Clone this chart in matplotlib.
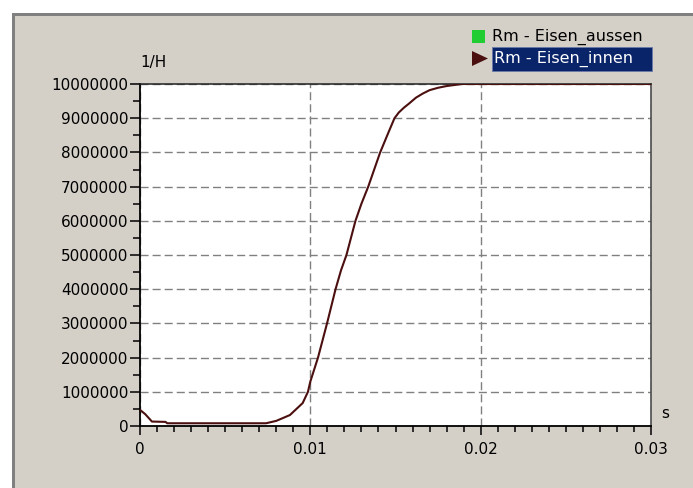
import numpy as np
import matplotlib.pyplot as plt
from matplotlib.patches import Rectangle, Polygon
from matplotlib.ticker import MultipleLocator, FormatStrFormatter

W, H = 693, 488

# values (time in s, Rm in 1/H)
t_innen = [0, 0.0003, 0.0007, 0.0015, 0.0016, 0.0074, 0.008, 0.0088, 0.00955,
           0.00986, 0.01, 0.01045, 0.01098, 0.01148, 0.0118, 0.01212, 0.01265,
           0.013, 0.0134, 0.0141, 0.0146, 0.01494, 0.0152, 0.0155, 0.0158,
           0.0162, 0.0166, 0.017, 0.0175, 0.018, 0.0189, 0.03]
rm_innen = [470000, 350000, 130000, 120000, 80000, 80000, 150000, 320000, 670000,
            1000000, 1300000, 2000000, 3000000, 4000000, 4550000, 5000000, 6000000,
            6500000, 7000000, 8000000, 8600000, 9000000, 9170000, 9310000, 9430000,
            9600000, 9720000, 9820000, 9890000, 9940000, 10000000, 10000000]

legend_names = ['Rm - Eisen_aussen', 'Rm - Eisen_innen']
legend_colors = ['#22cc33', '#4b0f0f']
y_unit = '1/H'
x_unit = 's'

PANEL = '#d4d0c8'
GRID = '#808080'
FS = 11
FS_LEG = 11.5


def fx(x):
    return x / W


def fy(y):
    return 1 - y / H


fig = plt.figure(figsize=(W / 100, H / 100), dpi=100)
fig.patch.set_facecolor('white')

# gray window panel with dark border on top/left
fig.add_artist(Rectangle((fx(12), 0), 1 - fx(12), fy(13), transform=fig.transFigure,
                         facecolor=PANEL, edgecolor='none', zorder=0))
fig.add_artist(Rectangle((fx(12), 0), fx(3), fy(13), transform=fig.transFigure,
                         facecolor='#808080', edgecolor='none', zorder=0))
fig.add_artist(Rectangle((fx(12), fy(16)), 1 - fx(12), fy(13) - fy(16),
                         transform=fig.transFigure,
                         facecolor='#808080', edgecolor='none', zorder=0))

ax = fig.add_axes([fx(140), fy(426), fx(651) - fx(140), fy(84) - fy(426)])
ax.set_facecolor('white')

ax.plot(t_innen, rm_innen, color=legend_colors[1], lw=1.5, zorder=3)

ax.set_xlim(0, 0.03)
ax.set_ylim(0, 10000000)
ax.xaxis.set_major_locator(MultipleLocator(0.01))
ax.xaxis.set_minor_locator(MultipleLocator(0.001))
ax.yaxis.set_major_locator(MultipleLocator(1000000))
ax.yaxis.set_minor_locator(MultipleLocator(500000))
ax.xaxis.set_major_formatter(lambda v, p: '0' if v == 0 else f'{v:.2f}')
ax.yaxis.set_major_formatter(FormatStrFormatter('%d'))

ax.tick_params(axis='y', which='major', direction='out', length=7, width=1.1,
               labelsize=FS, pad=1.5)
ax.tick_params(axis='y', which='minor', direction='out', length=5, width=1.1)
ax.tick_params(axis='x', which='major', direction='out', length=6.5, width=1.1,
               labelsize=FS, pad=5)
ax.tick_params(axis='x', which='minor', direction='out', length=4, width=1.1)

ax.grid(True, which='major', color=GRID, lw=1.0, ls=(0, (5.8, 2.9)))
ax.set_axisbelow(True)

for side in ['left', 'bottom']:
    ax.spines[side].set_linewidth(1.3)
    ax.spines[side].set_color('black')
ax.spines['top'].set_linewidth(1.1)
ax.spines['top'].set_color('#202020')
ax.spines['right'].set_linewidth(1.1)
ax.spines['right'].set_color('#404040')

fig.text(fx(140), fy(62), y_unit, fontsize=FS, va='center', ha='left')
fig.text(fx(661), fy(414), x_unit, fontsize=FS, va='center', ha='left')

# legend drawn by hand
fig.add_artist(Rectangle((fx(472), fy(43)), fx(13), fy(30) - fy(43),
                         transform=fig.transFigure, facecolor=legend_colors[0],
                         edgecolor='none'))
fig.text(fx(492), fy(37), legend_names[0], fontsize=FS_LEG, va='center', ha='left')

fig.add_artist(Polygon([[fx(472), fy(51)], [fx(472), fy(66)], [fx(488), fy(58.5)]],
                       closed=True, transform=fig.transFigure,
                       facecolor=legend_colors[1], edgecolor='none'))
fig.add_artist(Rectangle((fx(492), fy(71)), fx(160), fy(47) - fy(71),
                         transform=fig.transFigure, facecolor='#0a246a',
                         edgecolor='#6a7aa8', lw=0.6))
fig.text(fx(494), fy(59), legend_names[1], fontsize=FS_LEG, va='center', ha='left',
         color='white')

fig.savefig('out.png', dpi=100, facecolor=fig.get_facecolor())
